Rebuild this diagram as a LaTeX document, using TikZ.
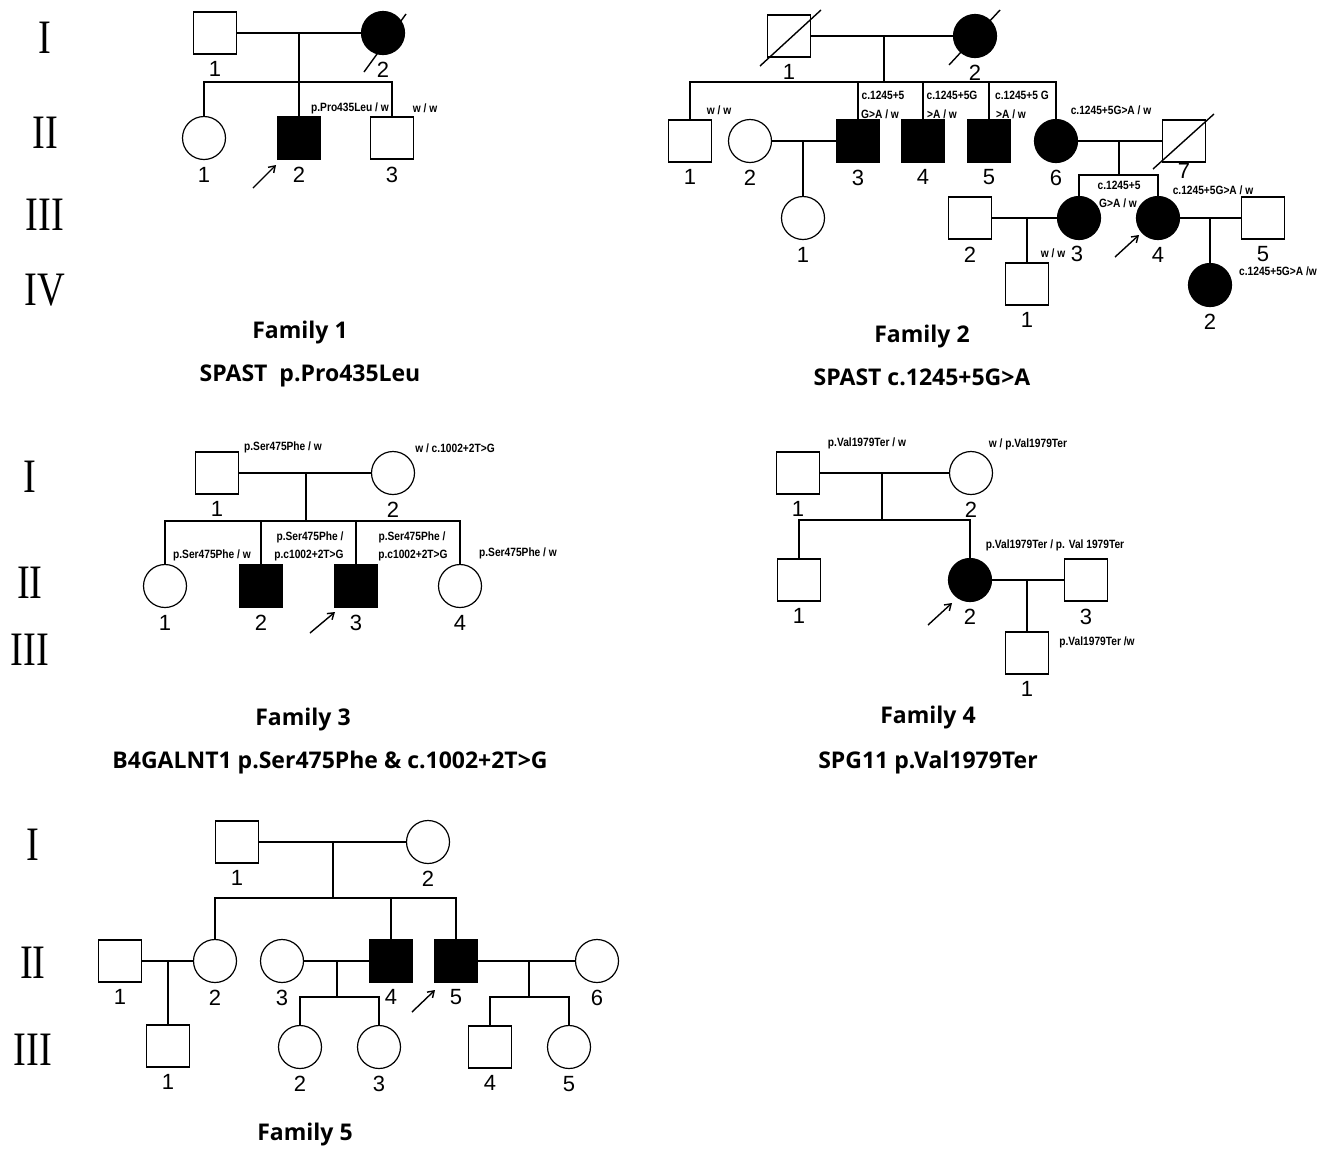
\documentclass[tikz,border=0pt]{standalone}
\usepackage{fontspec}
\setmainfont{Liberation Serif}
\newfontfamily\genfont[FakeStretch=0.8]{Liberation Serif}
\newfontfamily\numfont{Liberation Sans}
\newfontfamily\notefont[FakeStretch=0.85]{Liberation Sans}
\newfontfamily\titlefont{Open Sans}
\usetikzlibrary{arrows.meta}

\tikzset{
	male/.style={draw, line width=1.2pt, minimum width=43pt, minimum height=42pt, inner sep=0pt},
	female/.style={draw, circle, line width=1.2pt, minimum size=43pt, inner sep=0pt},
	aff/.style={fill=black},
	num/.style={font=\numfont\fontsize{22}{22}\selectfont, inner sep=0pt},
	nr/.style={label={[num, label distance=7pt]below:#1}},
	gen/.style={font=\genfont\fontsize{48}{48}\selectfont, inner sep=0pt},
	note/.style={font=\notefont\bfseries\fontsize{12}{12}\selectfont, inner sep=0pt},
	ftitle/.style={font=\titlefont\bfseries\fontsize{23}{23}\selectfont, inner sep=0pt},
	ped/.style={line width=2pt},
	dead/.style={line width=1.4pt},
	proband/.style={-{Straight Barb[length=6pt,width=8pt]}, line width=1.4pt}
}

\begin{document}
\begin{tikzpicture}[x=1pt,y=-1pt]
	\useasboundingbox (0,0) rectangle (1332,1149);
	
	% Generationen (Familie 1 und 2)
	\node[gen] (ga1) at (45,38) {I};
	\node[gen] (ga2) at (45,133) {II};
	\node[gen] (ga3) at (45,215) {III};
	\node[gen] (ga4) at (45,290) {IV};
	
	% Familie 1
	\node[male,nr=1] (f1a) at (215,33) {};
	\node[female,aff,nr=2] (f1b) at (383,33) {};
	\node[female,nr=1] (f1c1) at (204,138) {};
	\node[male,aff,nr=2] (f1c2) at (299,138) {};
	\node[male,nr=3] (f1c3) at (392,138) {};
	\coordinate (f1m) at (299,33);
	\coordinate (f1s) at (299,82);
	\draw[ped] (f1a.east) -- (f1b.west);
	\draw[ped] (f1m) -- (f1s);
	\draw[ped] (f1c1.north) |- (f1c3.north |- f1s) -- (f1c3.north);
	\draw[ped] (f1s) -- (f1c2.north);
	\draw[dead] ([shift={(-19,39)}]f1b.center) -- ([shift={(23,-19)}]f1b.center);
	\draw[proband] ([shift={(-46,50)}]f1c2.center) -- ([shift={(-23,27)}]f1c2.center);
	\node[note] (f1t2) at (350,108) {p.Pro435Leu / w};
	\node[note] (f1t3) at (425,108) {w / w};
	\node[ftitle] (f1ti) at (300,333) {Family 1};
	\node[ftitle] (f1gn) at (310,376) {SPAST\ \ p.Pro435Leu};
	
	% Familie 2
	\node[male,nr=1] (f2a) at (789,36) {};
	\node[female,aff,nr=2] (f2b) at (975,36) {};
	\node[male,nr=1] (f2c1) at (690,141) {};
	\node[female,nr=2] (f2w2) at (750,141) {};
	\node[male,aff,nr=3] (f2c3) at (858,141) {};
	\node[male,aff,nr=4] (f2c4) at (923,141) {};
	\node[male,aff,nr=5] (f2c5) at (989,141) {};
	\node[female,aff,nr=6] (f2c6) at (1056,141) {};
	\node[male] (f2h7) at (1184,141) {};
	\node[female,nr=1] (f2g1) at (803,218) {};
	\node[male,nr=2] (f2h2) at (970,218) {};
	\node[female,aff] (f2g3) at (1079,218) {};
	\node[female,aff,nr=4] (f2g4) at (1158,218) {};
	\node[male,nr=5] (f2h5) at (1263,218) {};
	\node[male,nr=1] (f2k1) at (1027,284) {};
	\node[female,aff,nr=2] (f2k2) at (1210,285) {};
	\node[num] (f2n7) at (1184,171) {7};
	\node[num] (f2n3) at (1077,254) {3};
	\coordinate (f2m) at (884,36);
	\coordinate (f2s) at (884,82);
	\coordinate (f2m3) at (1119,141);
	\coordinate (f2s3) at (1119,175);
	\draw[ped] (f2a.east) -- (f2b.west);
	\draw[ped] (f2m) -- (f2s);
	\draw[ped] (f2c1.north) |- (f2c6.north |- f2s) -- (f2c6.north);
	\foreach \c in {f2c3,f2c4,f2c5}
		\draw[ped] (\c.north |- f2s) -- (\c.north);
	\draw[ped] (f2w2.east) -- (f2c3.west);
	\draw[ped] (f2g1.north |- f2w2) -- (f2g1.north);
	\draw[ped] (f2c6.east) -- (f2h7.west);
	\draw[ped] (f2m3) -- (f2s3);
	\draw[ped] (f2g3.north) |- (f2g4.north |- f2s3) -- (f2g4.north);
	\draw[ped] (f2h2.east) -- (f2g3.west);
	\draw[ped] (f2k1.north |- f2h2) -- (f2k1.north);
	\draw[ped] (f2g4.east) -- (f2h5.west);
	\draw[ped] (f2k2.north |- f2g4) -- (f2k2.north);
	\draw[dead] ([shift={(-29,30)}]f2a.center) -- ([shift={(32,-26)}]f2a.center);
	\draw[dead] ([shift={(-26,29)}]f2b.center) -- ([shift={(25,-26)}]f2b.center);
	\draw[dead] ([shift={(-31,28)}]f2h7.center) -- ([shift={(30,-27)}]f2h7.center);
	\draw[proband] ([shift={(-43,39)}]f2g4.center) -- ([shift={(-19,17)}]f2g4.center);
	\node[note] (f2t1) at (719,110) {w / w};
	\node[note] (f2t3a) at (883,95) {c.1245+5};
	\node[note] (f2t3b) at (880,114) {G>A / w};
	\node[note] (f2t4a) at (952,95) {c.1245+5G};
	\node[note] (f2t4b) at (942,114) {>A / w};
	\node[note] (f2t5a) at (1022,95) {c.1245+5 G};
	\node[note] (f2t5b) at (1011,114) {>A / w};
	\node[note] (f2t6) at (1111,110) {c.1245+5G>A / w};
	\node[note] (f2u3a) at (1119,185) {c.1245+5};
	\node[note] (f2u3b) at (1118,203) {G>A / w};
	\node[note] (f2u4) at (1213,190) {c.1245+5G>A / w};
	\node[note] (f2u3c) at (1053,253) {w / w};
	\node[note] (f2v2) at (1278,271) {c.1245+5G>A /w};
	\node[ftitle] (f2ti) at (922,337) {Family 2};
	\node[ftitle] (f2gn) at (922,377) {SPAST c.1245+5G>A};
	
	% Generationen (Familie 3 und 4)
	\node[gen] (gb1) at (30,477) {I};
	\node[gen] (gb2) at (30,583) {II};
	\node[gen] (gb3) at (30,650) {III};
	
	% Familie 3
	\node[male,nr=1] (f3a) at (217,473) {};
	\node[female,nr=2] (f3b) at (393,473) {};
	\node[female,nr=1] (f3c1) at (165,586) {};
	\node[male,aff,nr=2] (f3c2) at (261,586) {};
	\node[male,aff,nr=3] (f3c3) at (356,586) {};
	\node[female,nr=4] (f3c4) at (460,586) {};
	\coordinate (f3m) at (306,473);
	\coordinate (f3s) at (306,521);
	\draw[ped] (f3a.east) -- (f3b.west);
	\draw[ped] (f3m) -- (f3s);
	\draw[ped] (f3c1.north) |- (f3c4.north |- f3s) -- (f3c4.north);
	\foreach \c in {f3c2,f3c3}
		\draw[ped] (\c.north |- f3s) -- (\c.north);
	\draw[proband] ([shift={(-46,47)}]f3c3.center) -- ([shift={(-21,26)}]f3c3.center);
	\node[note] (f3t1) at (283,447) {p.Ser475Phe / w};
	\node[note] (f3t2) at (455,448) {w / c.1002+2T>G};
	\node[note] (f3u1) at (212,555) {p.Ser475Phe / w};
	\node[note] (f3u2a) at (310,537) {p.Ser475Phe /};
	\node[note] (f3u2b) at (309,556) {p.c1002+2T>G};
	\node[note] (f3u3a) at (412,537) {p.Ser475Phe /};
	\node[note] (f3u3b) at (413,556) {p.c1002+2T>G};
	\node[note] (f3u4) at (518,553) {p.Ser475Phe / w};
	\node[ftitle] (f3ti) at (303,720) {Family 3};
	\node[ftitle] (f3gn) at (330,763) {B4GALNT1 p.Ser475Phe \& c.1002+2T>G};
	
	% Familie 4
	\node[male,nr=1] (f4a) at (798,473) {};
	\node[female,nr=2] (f4b) at (971,473) {};
	\node[male,nr=1] (f4c1) at (799,580) {};
	\node[female,aff,nr=2] (f4c2) at (970,580) {};
	\node[male,nr=3] (f4h3) at (1086,580) {};
	\node[male,nr=1] (f4g1) at (1027,653) {};
	\coordinate (f4m) at (882,473);
	\coordinate (f4s) at (882,520);
	\draw[ped] (f4a.east) -- (f4b.west);
	\draw[ped] (f4m) -- (f4s);
	\draw[ped] (f4c1.north) |- (f4c2.north |- f4s) -- (f4c2.north);
	\draw[ped] (f4c2.east) -- (f4h3.west);
	\draw[ped] (f4g1.north |- f4c2) -- (f4g1.north);
	\draw[proband] ([shift={(-42,45)}]f4c2.center) -- ([shift={(-18,23)}]f4c2.center);
	\node[note] (f4t1) at (867,443) {p.Val1979Ter / w};
	\node[note] (f4t2) at (1028,444) {w / p.Val1979Ter};
	\node[note] (f4u2) at (1055,545) {p.Val1979Ter / p. Val 1979Ter};
	\node[note] (f4v1) at (1097,642) {p.Val1979Ter /w};
	\node[ftitle] (f4ti) at (928,718) {Family 4};
	\node[ftitle] (f4gn) at (928,763) {SPG11 p.Val1979Ter};
	
	% Generationen (Familie 5)
	\node[gen] (gc1) at (33,845) {I};
	\node[gen] (gc2) at (33,963) {II};
	\node[gen] (gc3) at (33,1050) {III};
	
	% Familie 5
	\node[male,nr=1] (f5a) at (237,842) {};
	\node[female,nr=2] (f5b) at (428,842) {};
	\node[male,nr=1] (f5h1) at (120,961) {};
	\node[female,nr=2] (f5c2) at (215,961) {};
	\node[female,nr=3] (f5w3) at (282,961) {};
	\node[male,aff,nr=4] (f5c4) at (391,961) {};
	\node[male,aff,nr=5] (f5c5) at (456,961) {};
	\node[female,nr=6] (f5w6) at (597,961) {};
	\node[male,nr=1] (f5g1) at (168,1046) {};
	\node[female,nr=2] (f5g2) at (300,1047) {};
	\node[female,nr=3] (f5g3) at (379,1047) {};
	\node[male,nr=4] (f5g4) at (490,1047) {};
	\node[female,nr=5] (f5g5) at (569,1047) {};
	\coordinate (f5m) at (333,842);
	\coordinate (f5s) at (333,898);
	\coordinate (f5m2) at (337,961);
	\coordinate (f5s2) at (337,997);
	\coordinate (f5m3) at (529,961);
	\coordinate (f5s3) at (529,997);
	\draw[ped] (f5a.east) -- (f5b.west);
	\draw[ped] (f5m) -- (f5s);
	\draw[ped] (f5c2.north) |- (f5c5.north |- f5s) -- (f5c5.north);
	\draw[ped] (f5c4.north |- f5s) -- (f5c4.north);
	\draw[ped] (f5h1.east) -- (f5c2.west);
	\draw[ped] (f5g1.north |- f5h1) -- (f5g1.north);
	\draw[ped] (f5w3.east) -- (f5c4.west);
	\draw[ped] (f5m2) -- (f5s2);
	\draw[ped] (f5g2.north) |- (f5g3.north |- f5s2) -- (f5g3.north);
	\draw[ped] (f5c5.east) -- (f5w6.west);
	\draw[ped] (f5m3) -- (f5s3);
	\draw[ped] (f5g4.north) |- (f5g5.north |- f5s3) -- (f5g5.north);
	\draw[proband] ([shift={(-44,51)}]f5c5.center) -- ([shift={(-21,29)}]f5c5.center);
	\node[ftitle] (f5ti) at (305,1135) {Family 5};
	
\end{tikzpicture}
\end{document}
